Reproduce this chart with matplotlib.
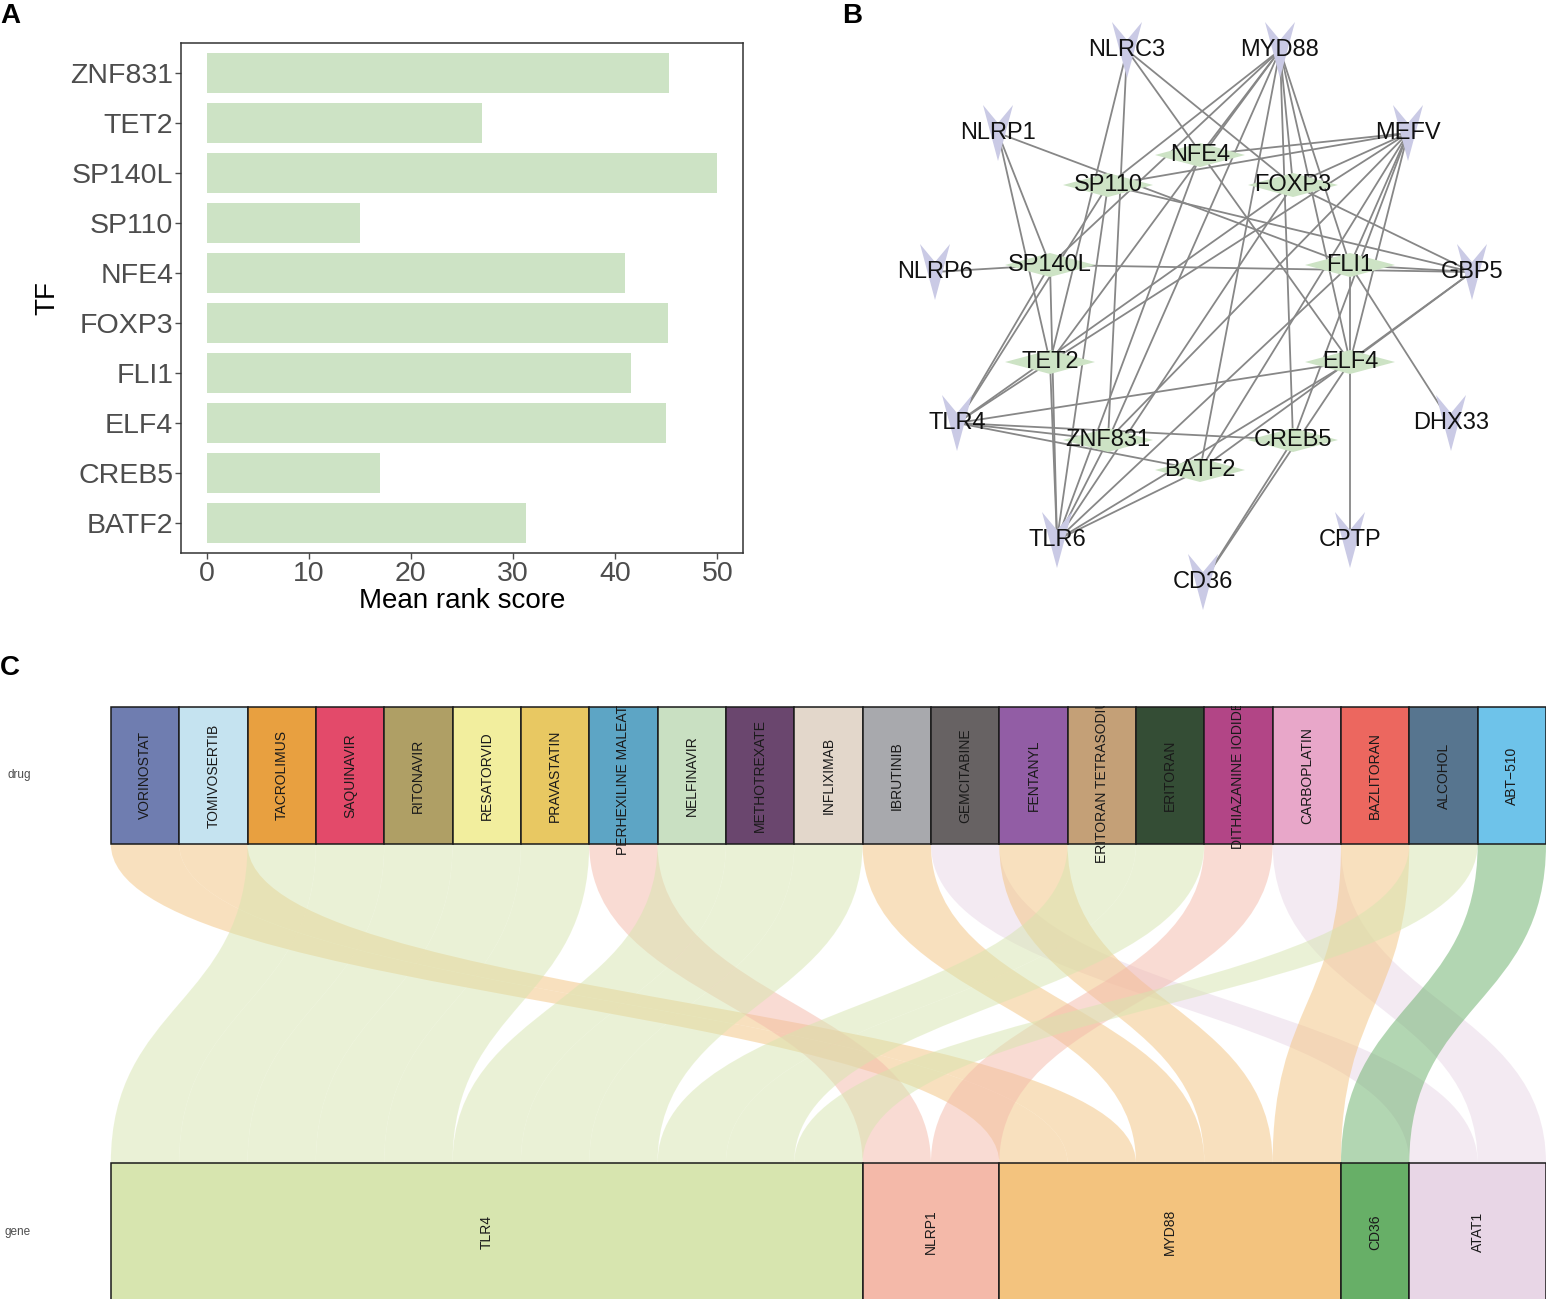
import numpy as np
import matplotlib.pyplot as plt
from matplotlib.patches import Polygon, Rectangle, PathPatch
from matplotlib.path import Path

plt.rcParams['font.family'] = ['Liberation Sans', 'DejaVu Sans']

W, H = 1546, 1299

# ---- panel A data
tf_names = ['ZNF831', 'TET2', 'SP140L', 'SP110', 'NFE4', 'FOXP3', 'FLI1', 'ELF4', 'CREB5', 'BATF2']
tf_scores = [45.3, 27.0, 50.0, 15.0, 41.0, 45.2, 41.5, 45.0, 17.0, 31.3]

# ---- panel B data (network layout)
tf_nodes = ['NFE4', 'SP110', 'FOXP3', 'SP140L', 'FLI1', 'TET2', 'ELF4', 'ZNF831', 'CREB5', 'BATF2']
tf_x = [1200, 1108, 1293, 1050, 1350, 1050, 1350, 1108, 1293, 1200]
tf_y = [155, 185, 185, 265, 265, 362, 362, 440, 440, 470]
gene_nodes = ['NLRC3', 'MYD88', 'NLRP1', 'MEFV', 'NLRP6', 'GBP5', 'TLR4', 'DHX33', 'TLR6', 'CPTP', 'CD36']
gene_x = [1127, 1280, 998, 1408, 935, 1472, 957, 1451, 1057, 1350, 1203]
gene_y = [50, 50, 133, 133, 272, 272, 423, 423, 540, 540, 582]
edges = [
    ('NLRP6', 'SP140L'), ('GBP5', 'SP140L'), ('NLRP1', 'SP140L'), ('NLRP1', 'TET2'),
    ('NLRP1', 'FLI1'), ('NLRC3', 'TET2'), ('NLRC3', 'ZNF831'), ('NLRC3', 'FOXP3'),
    ('NLRC3', 'ELF4'),
    ('MYD88', 'NFE4'), ('MYD88', 'SP110'), ('MYD88', 'SP140L'), ('MYD88', 'TET2'),
    ('MYD88', 'FOXP3'), ('MYD88', 'FLI1'), ('MYD88', 'ELF4'), ('MYD88', 'CREB5'),
    ('MYD88', 'BATF2'), ('MYD88', 'ZNF831'),
    ('MEFV', 'NFE4'), ('MEFV', 'SP110'), ('MEFV', 'FOXP3'), ('MEFV', 'FLI1'),
    ('MEFV', 'ELF4'), ('MEFV', 'CREB5'), ('MEFV', 'BATF2'), ('MEFV', 'ZNF831'),
    ('MEFV', 'TET2'),
    ('GBP5', 'SP110'), ('GBP5', 'FOXP3'), ('GBP5', 'FLI1'), ('GBP5', 'ELF4'), ('GBP5', 'BATF2'),
    ('TLR4', 'TET2'), ('TLR4', 'SP140L'), ('TLR4', 'SP110'), ('TLR4', 'FOXP3'),
    ('TLR4', 'ELF4'), ('TLR4', 'CREB5'), ('TLR4', 'BATF2'), ('TLR4', 'ZNF831'),
    ('TLR6', 'TET2'), ('TLR6', 'SP140L'), ('TLR6', 'SP110'), ('TLR6', 'NFE4'),
    ('TLR6', 'ZNF831'), ('TLR6', 'BATF2'), ('TLR6', 'FOXP3'), ('TLR6', 'FLI1'),
    ('TLR6', 'ELF4'),
    ('CD36', 'CREB5'), ('CD36', 'ELF4'), ('CPTP', 'FLI1'), ('DHX33', 'FLI1'),
]

# ---- panel C data
drugs = ['VORINOSTAT', 'TOMIVOSERTIB', 'TACROLIMUS', 'SAQUINAVIR', 'RITONAVIR', 'RESATORVID',
         'PRAVASTATIN', 'PERHEXILINE MALEATE', 'NELFINAVIR', 'METHOTREXATE', 'INFLIXIMAB',
         'IBRUTINIB', 'GEMCITABINE', 'FENTANYL', 'ERITORAN TETRASODIUM', 'ERITORAN',
         'DITHIAZANINE IODIDE', 'CARBOPLATIN', 'BAZLITORAN', 'ALCOHOL', 'ABT\u2212510']
drug_colors = ['#6F7DB0', '#C5E3F0', '#E8A040', '#E34A6A', '#AF9F65', '#F2EE9E', '#E8C862',
               '#5DA5C5', '#C9E0C2', '#6A466E', '#E3D7CB', '#A8A9AD', '#676263', '#925DA5',
               '#C4A077', '#344D35', '#B24586', '#E8A7C9', '#EC675F', '#57758F', '#6EC3EA']
drug_targets = ['MYD88', 'MYD88', 'TLR4', 'TLR4', 'TLR4', 'TLR4', 'TLR4', 'NLRP1', 'TLR4',
                'TLR4', 'TLR4', 'MYD88', 'ATAT1', 'MYD88', 'TLR4', 'TLR4', 'NLRP1', 'ATAT1',
                'MYD88', 'TLR4', 'CD36']
genes = ['TLR4', 'NLRP1', 'MYD88', 'CD36', 'ATAT1']
gene_colors = ['#D7E5AF', '#F4B9A9', '#F3C37E', '#67AF67', '#E8D6E6']

fig = plt.figure(figsize=(W / 100, H / 100), dpi=100)

# ================= panel A: bar chart
ax_a = fig.add_axes([181 / W, 1 - 553 / H, (743 - 181) / W, (553 - 43) / H])
ypos = np.arange(len(tf_names))[::-1]
ax_a.barh(ypos, tf_scores, height=0.8, color='#CDE3C5')
ax_a.set_yticks(ypos)
ax_a.set_yticklabels(tf_names)
ax_a.set_xticks([0, 10, 20, 30, 40, 50])
ax_a.set_xlim(-2.5, 52.5)
ax_a.set_ylim(-0.6, len(tf_names) - 0.4)
ax_a.tick_params(labelsize=20.5, colors='#4D4D4D', length=4, width=1, pad=1.5)
for s in ax_a.spines.values():
    s.set_color('#333333')
    s.set_linewidth(1.1)
ax_a.set_xlabel('Mean rank score', fontsize=20, color='black')
ax_a.set_ylabel('TF', fontsize=20, color='black')
ax_a.xaxis.set_label_coords(0.5, -0.068)
ax_a.yaxis.set_label_coords(-0.215, 0.5)

# ================= panel B: network
ax_b = fig.add_axes([860 / W, 1 - 640 / H, (W - 860) / W, 640 / H])
ax_b.set_xlim(860, W)
ax_b.set_ylim(640, 0)
ax_b.axis('off')

pos = {}
for n, x, y in zip(tf_nodes, tf_x, tf_y):
    pos[n] = (x, y)
for n, x, y in zip(gene_nodes, gene_x, gene_y):
    pos[n] = (x, y)

for a, b in edges:
    (x1, y1), (x2, y2) = pos[a], pos[b]
    ax_b.plot([x1, x2], [y1, y2], color='#878787', lw=1.3, zorder=1)

for n, x, y in zip(gene_nodes, gene_x, gene_y):
    v = [(x - 15, y - 28), (x, y - 10), (x + 15, y - 28), (x, y + 28)]
    ax_b.add_patch(Polygon(v, closed=True, facecolor='#CACAE5', edgecolor='none', zorder=2))
    ax_b.text(x, y, n, ha='center', va='center', fontsize=17, color='#111111', zorder=4)

for n, x, y in zip(tf_nodes, tf_x, tf_y):
    d = [(x - 45, y), (x, y - 12), (x + 45, y), (x, y + 12)]
    ax_b.add_patch(Polygon(d, closed=True, facecolor='#CDE3C5', edgecolor='none', zorder=3))
    ax_b.text(x, y, n, ha='center', va='center', fontsize=17, color='#111111', zorder=4)

# ================= panel C: alluvial
ax_c = fig.add_axes([110 / W, 0, (W - 110) / W, (H - 706) / H])
ax_c.set_xlim(-0.012, len(drugs))
ax_c.set_ylim(0.853, 2.152)
ax_c.axis('off')

half = 0.15
y_drug, y_gene = 2.0, 1.0
counts = [drug_targets.count(g) for g in genes]
starts = np.concatenate([[0], np.cumsum(counts)[:-1]])
gstart = dict(zip(genes, starts))
gcol = dict(zip(genes, gene_colors))

# flows
seen = {g: 0 for g in genes}
top_y, bot_y = y_drug - half, y_gene + half
mid_y = (top_y + bot_y) / 2
for i, g in enumerate(drug_targets):
    xb = gstart[g] + seen[g]
    seen[g] += 1
    xt0, xt1 = i, i + 1
    xb0, xb1 = xb, xb + 1
    verts = [(xt0, top_y), (xt0, mid_y), (xb0, mid_y), (xb0, bot_y),
             (xb1, bot_y),
             (xb1, mid_y), (xt1, mid_y), (xt1, top_y),
             (xt0, top_y)]
    codes = [Path.MOVETO, Path.CURVE4, Path.CURVE4, Path.CURVE4,
             Path.LINETO,
             Path.CURVE4, Path.CURVE4, Path.CURVE4,
             Path.CLOSEPOLY]
    ax_c.add_patch(PathPatch(Path(verts, codes), facecolor=gcol[g], alpha=0.5,
                             edgecolor='none', zorder=1))

# drug strata
for i, (d, c) in enumerate(zip(drugs, drug_colors)):
    ax_c.add_patch(Rectangle((i, y_drug - half), 1, 2 * half, facecolor=c,
                             edgecolor='#1A1A1A', lw=1.1, zorder=2))
    ax_c.text(i + 0.5, y_drug, d, rotation=90, ha='center', va='center', fontsize=10,
              color='#1A1A1A', zorder=3, clip_on=True)

# gene strata
for g, s, n, c in zip(genes, starts, counts, gene_colors):
    ax_c.add_patch(Rectangle((s, y_gene - half), n, 2 * half, facecolor=c,
                             edgecolor='#1A1A1A', lw=1.1, zorder=2))
    ax_c.text(s + n / 2, y_gene, g, rotation=90, ha='center', va='center', fontsize=10,
              color='#1A1A1A', zorder=3, clip_on=True)

fig.text(31 / W, 1 - 775 / H, 'drug', ha='right', va='center', fontsize=8.5, color='#4D4D4D')
fig.text(31 / W, 1 - 1232 / H, 'gene', ha='right', va='center', fontsize=8.5, color='#4D4D4D')

# panel letters
fig.text(0 / W, 1 - 16 / H, 'A', ha='left', va='center', fontsize=20, fontweight='bold')
fig.text(842 / W, 1 - 16 / H, 'B', ha='left', va='center', fontsize=20, fontweight='bold')
fig.text(0 / W, 1 - 668 / H, 'C', ha='left', va='center', fontsize=20, fontweight='bold')

fig.savefig('out.png', dpi=100)
